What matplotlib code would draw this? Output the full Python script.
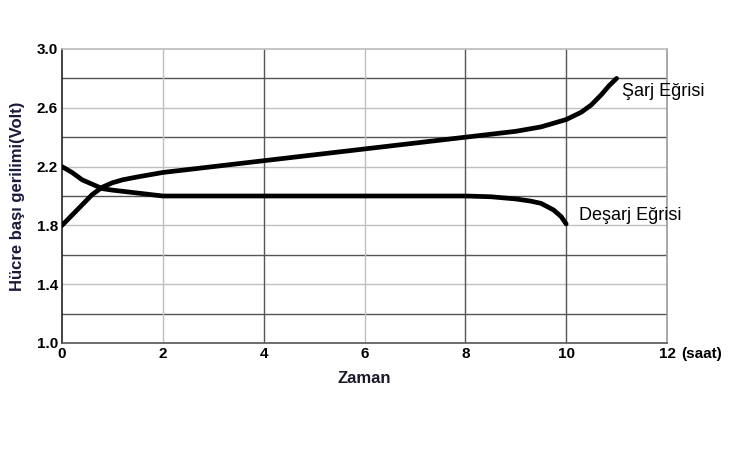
import matplotlib
matplotlib.use("Agg")
import matplotlib.pyplot as plt
import numpy as np

plt.rcParams['font.family'] = ['Liberation Sans', 'DejaVu Sans']

charge_t = [0, 0.2, 0.4, 0.6, 0.8, 1.0, 1.2, 1.5, 2, 3, 4, 5, 6, 7, 8, 8.5, 9, 9.5, 10, 10.3, 10.5, 10.7, 10.85, 11]
charge_v = [1.8, 1.87, 1.94, 2.01, 2.06, 2.09, 2.11, 2.13, 2.16, 2.2, 2.24, 2.28, 2.32, 2.36, 2.40, 2.42, 2.44, 2.47, 2.52, 2.57, 2.62, 2.69, 2.75, 2.8]
dis_t = [0, 0.2, 0.4, 0.6, 0.8, 1.0, 1.5, 2, 4, 6, 8, 8.5, 9, 9.3, 9.5, 9.75, 9.9, 10]
dis_v = [2.2, 2.16, 2.11, 2.08, 2.05, 2.04, 2.02, 2.0, 2.0, 2.0, 2.0, 1.995, 1.98, 1.965, 1.95, 1.905, 1.86, 1.81]

xticks = [0, 2, 4, 6, 8, 10, 12]
yticks = [1.0, 1.4, 1.8, 2.2, 2.6, 3.0]
ytick_labels = ["1.0", "1.4", "1.8", "2.2", "2.6", "3.0"]

fig = plt.figure(figsize=(7.5, 4.5), dpi=100)
ax = fig.add_axes([62/750, 1-343/450, 605/750, 294/450])
ax.set_xlim(0, 12)
ax.set_ylim(1.0, 3.0)

dark = '#555555'
light = '#c0c0c0'
for y in [1.2, 1.6, 2.0, 2.4, 2.8]:
    ax.axhline(y, color=dark, lw=1.0, zorder=1)
for y in [1.4, 1.8, 2.2, 2.6]:
    ax.axhline(y, color=light, lw=1.0, zorder=1)
for x in [4, 8, 10]:
    ax.axvline(x, color=dark, lw=1.0, zorder=1)
for x in [2, 6]:
    ax.axvline(x, color=light, lw=1.0, zorder=1)

kw = dict(color='black', lw=3.4, solid_capstyle='round', solid_joinstyle='round', zorder=3)
ax.plot(charge_t, charge_v, **kw)
ax.plot(dis_t, dis_v, **kw)

ax.set_xticks(xticks)
ax.set_xticklabels([str(t) for t in xticks], fontweight='bold', fontsize=11)
ax.set_yticks(yticks)
ax.set_yticklabels(ytick_labels, fontweight='bold', fontsize=11)
ax.tick_params(length=0, pad=3)

ax.spines['top'].set_color('#bbbbbb')
ax.spines['right'].set_color('#999999')
ax.spines['left'].set_color('#222222')
ax.spines['bottom'].set_color('#555555')
for s in ax.spines.values():
    s.set_linewidth(1.2)

ax.set_xlabel("Zaman", fontweight='bold', fontsize=12, labelpad=7, color='#1a1a2a')
ax.set_ylabel("Hücre başı gerilimi(Volt)", fontweight='bold', fontsize=12, labelpad=8, color='#1a1a3a')

ax.text(12.28, 0.97, "(saat)", fontweight='bold', fontsize=11, ha='left', va='top', clip_on=False)
ax.text(11.1, 2.71, "Şarj Eğrisi", fontsize=13, ha='left', va='center', clip_on=False)
ax.text(10.25, 1.865, "Deşarj Eğrisi", fontsize=13, ha='left', va='center', clip_on=False)

fig.savefig("out.png", dpi=100)
